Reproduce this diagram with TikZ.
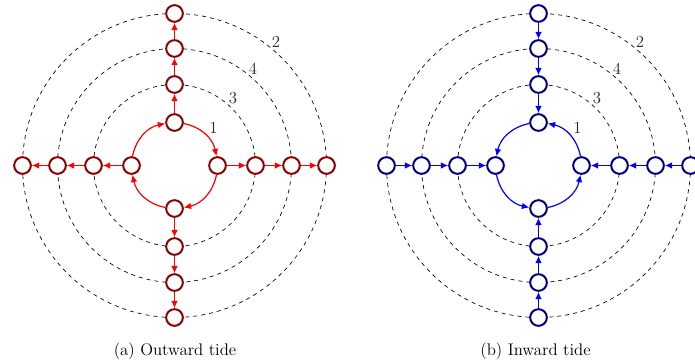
\documentclass[tikz,border=0pt]{standalone}
\usepackage{fontspec}
\usetikzlibrary{arrows.meta}
\definecolor{nodered}{RGB}{139,0,0}
\definecolor{nodeblue}{RGB}{0,0,128}
\tikzset{
  nd/.style={circle, draw=#1, line width=1.5pt, fill=white, minimum size=12.5pt, inner sep=0pt},
  tarr/.style={draw=#1, line width=0.9pt, -{Latex[length=5.5pt,width=5pt]}},
  ring/.style={dashed, line width=0.5pt, black},
  lab/.style={font=\fontsize{12.6}{15}\selectfont, text=black!85, inner sep=0pt},
  captext/.style={font=\fontsize{12.6}{15}\selectfont, inner sep=0pt, anchor=base},
}
\begin{document}
\begin{tikzpicture}[x=0.75pt,y=-0.75pt]
\useasboundingbox (0,0) rectangle (695,360);
% ---------------- panel (a): outward tide
\begin{scope}[shift={(174.5,165.5)}]
  \foreach \r in {81,117,152} \draw[ring] (0,0) circle[radius=\r];
  \foreach \i/\r in {1/43,2/81,3/117,4/152}{
    \node[nd=nodered] (aN\i) at (0,-\r) {};
    \node[nd=nodered] (aS\i) at (0,\r) {};
    \node[nd=nodered] (aE\i) at (\r,0) {};
    \node[nd=nodered] (aW\i) at (-\r,0) {};
  }
  \foreach \d in {N,S,E,W}{
    \draw[tarr=red] (a\d1) -- (a\d2);
    \draw[tarr=red] (a\d2) -- (a\d3);
    \draw[tarr=red] (a\d3) -- (a\d4);
  }
  \draw[tarr=red] (aN1.-6)  to[out=-12,in=102]  (aE1.96);
  \draw[tarr=red] (aE1.-96) to[out=-102,in=12]  (aS1.6);
  \draw[tarr=red] (aS1.174) to[out=168,in=-78]  (aW1.-84);
  \draw[tarr=red] (aW1.84)  to[out=78,in=192]   (aN1.186);
  \node[lab] (aL1) at (39,-37.5) {1};
  \node[lab] (aL3) at (58.5,-67.5) {3};
  \node[lab] (aL4) at (78.5,-96.5) {4};
  \node[lab] (aL2) at (101.5,-123.5) {2};
\end{scope}
\node[captext] (capa) at (175,355) {(a) Outward tide};
% ---------------- panel (b): inward tide
\begin{scope}[shift={(538.5,165.5)}]
  \foreach \r in {81,117,152} \draw[ring] (0,0) circle[radius=\r];
  \foreach \i/\r in {1/43,2/81,3/117,4/152}{
    \node[nd=nodeblue] (bN\i) at (0,-\r) {};
    \node[nd=nodeblue] (bS\i) at (0,\r) {};
    \node[nd=nodeblue] (bE\i) at (\r,0) {};
    \node[nd=nodeblue] (bW\i) at (-\r,0) {};
  }
  \foreach \d in {N,S,E,W}{
    \draw[tarr=blue] (b\d4) -- (b\d3);
    \draw[tarr=blue] (b\d3) -- (b\d2);
    \draw[tarr=blue] (b\d2) -- (b\d1);
  }
  \draw[tarr=blue] (bN1.186) to[out=192,in=78]   (bW1.84);
  \draw[tarr=blue] (bW1.-84) to[out=-78,in=168]  (bS1.174);
  \draw[tarr=blue] (bS1.6)   to[out=12,in=-102]  (bE1.-96);
  \draw[tarr=blue] (bE1.96)  to[out=102,in=-12]  (bN1.-6);
  \node[lab] (bL1) at (39,-37.5) {1};
  \node[lab] (bL3) at (58.5,-67.5) {3};
  \node[lab] (bL4) at (78.5,-96.5) {4};
  \node[lab] (bL2) at (101.5,-123.5) {2};
\end{scope}
\node[captext] (capb) at (535.5,355) {(b) Inward tide};
\end{tikzpicture}
\end{document}
